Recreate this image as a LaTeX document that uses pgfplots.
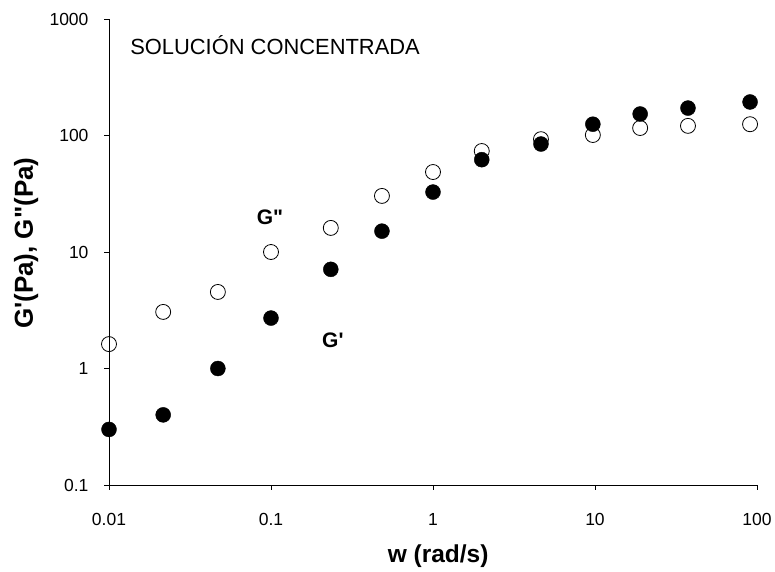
\documentclass[border=0pt]{standalone}
\usepackage{pgfplots}
\pgfplotsset{compat=1.18}
\usepackage{fontspec}
\setmainfont{Liberation Sans}

% Storage (G') and loss (G'') moduli versus angular frequency
\pgfplotstableread{
w      Gp
0.01   0.30
0.0216 0.40
0.047  1.00
0.10   2.71
0.234  7.1
0.484  15.1
1.0    32.7
2.0    62
4.64   84.5
9.7    125
19     153
37.5   172
90.6   194
}\storage
\pgfplotstableread{
w      Gpp
0.01   1.62
0.0216 3.06
0.047  4.54
0.10   10.0
0.234  16.1
0.484  30.3
1.0    48.6
2.0    73.6
4.64   93
9.7    101
19     116
37.5   121
90.6   125
}\loss

% tick labels set as text at a fixed size
\newcommand{\tl}[1]{\mbox{\fontsize{17.5}{20}\selectfont #1}}

\begin{document}
\begin{tikzpicture}
\path[use as bounding box] (-109pt,-86pt) rectangle (666pt,485pt);
\begin{axis}[
  scale only axis, width=648pt, height=466pt,
  xmode=log, ymode=log,
  xmin=0.01, xmax=100, ymin=0.1, ymax=1000,
  axis x line*=bottom, axis y line*=left,
  axis line style={line width=0.9pt},
  tick align=outside, major tick length=5pt,
  xminorticks=false, yminorticks=false,
  tick style={black, line width=0.8pt},
  xtick={0.01,0.1,1,10,100},
  xticklabels={\tl{0.01},\tl{0.1},\tl{1},\tl{10},\tl{100}},
  ytick={0.1,1,10,100,1000},
  yticklabels={\tl{0.1},\tl{1},\tl{10},\tl{100},\tl{1000}},
  xticklabel style={yshift=-20pt},
  yticklabel style={xshift=-12pt},
  xlabel={w (rad/s)},
  ylabel={G\textquotesingle(Pa), G\textquotedbl(Pa)},
  xlabel style={font=\fontsize{24.5}{28}\selectfont\bfseries, at={(axis description cs:0.508,-0.152)}, anchor=center},
  ylabel style={font=\fontsize{26}{30}\selectfont\bfseries, at={(axis description cs:-0.128,0.519)}, anchor=center, rotate=0},
  clip=false,
]
\addplot[only marks, mark=*, mark size=7.5pt, mark options={fill=black, draw=black}] table[x=w, y=Gp] {\storage};
\addplot[only marks, mark=o, mark size=7.5pt, mark options={draw=black, line width=0.8pt, fill=white}] table[x=w, y=Gpp] {\loss};
\node[font=\fontsize{21.9}{24}\selectfont, anchor=west, inner sep=0pt] at (axis cs:0.01349,593) {SOLUCIÓN CONCENTRADA};
\node[font=\fontsize{21}{24}\selectfont\bfseries] at (axis cs:0.0986,20) {G\textquotedbl};
\node[font=\fontsize{21}{24}\selectfont\bfseries] at (axis cs:0.241,1.76) {G\textquotesingle};
\end{axis}
\end{tikzpicture}
\end{document}
